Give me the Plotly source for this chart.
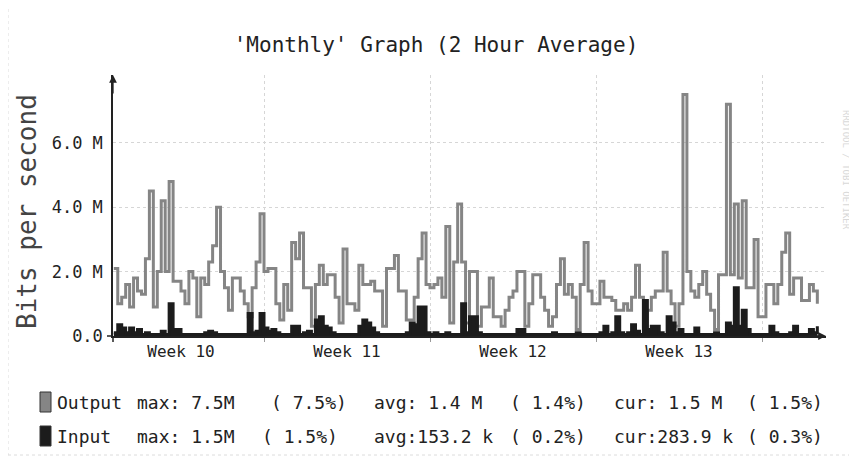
import plotly.graph_objects as go

# ---- data (Mbit/s, 4-hour samples) ----
output_mbps = [
    2.1, 1.0, 1.2, 1.6, 0.9, 1.8, 1.4, 1.3, 2.4, 4.5,
    0.9, 2.0, 4.2, 2.0, 4.8, 1.7, 1.7, 1.4, 1.0, 2.0,
    1.8, 0.6, 1.8, 1.6, 2.3, 2.8, 4.0, 2.0, 1.5, 0.8,
    1.8, 1.8, 1.4, 1.0, 0.6, 1.5, 2.3, 3.8, 2.0, 2.1,
    2.1, 1.0, 0.5, 1.6, 0.8, 2.9, 2.4, 3.2, 1.5, 1.5,
    0.3, 1.6, 2.2, 1.6, 1.9, 1.9, 1.2, 0.4, 2.7, 1.0,
    1.0, 0.8, 2.2, 1.6, 1.6, 1.7, 1.4, 1.4, 0.3, 2.1,
    2.1, 2.5, 1.4, 1.4, 0.5, 0.5, 1.2, 2.4, 3.2, 1.6,
    1.5, 1.6, 1.8, 1.2, 3.4, 0.4, 2.3, 4.1, 2.3, 0.4,
    2.0, 2.0, 0.3, 0.9, 0.9, 1.8, 0.6, 0.6, 0.3, 0.8,
    1.2, 1.4, 2.0, 2.0, 0.3, 1.0, 1.9, 1.9, 1.2, 0.8,
    0.3, 0.6, 1.6, 2.4, 1.3, 1.6, 1.2, 0.2, 1.6, 2.9,
    1.4, 1.0, 1.0, 1.7, 1.2, 1.2, 1.1, 0.8, 0.8, 1.0,
    0.8, 1.2, 2.2, 1.2, 0.3, 0.8, 1.2, 1.4, 1.4, 2.6,
    1.4, 1.0, 0.3, 1.0, 7.5, 2.0, 1.4, 1.2, 1.6, 2.0,
    1.3, 0.8, 0.2, 1.9, 1.9, 7.2, 1.9, 4.1, 1.8, 4.2,
    1.5, 1.5, 3.0, 0.6, 0.6, 1.6, 1.6, 1.0, 1.6, 2.6,
    3.2, 1.3, 1.8, 1.8, 1.1, 1.1, 1.6, 1.4, 1.0,
]
input_mbps = [
    0.10, 0.35, 0.25, 0.10, 0.25, 0.10, 0.20, 0.05, 0.10, 0.05,
    0.05, 0.05, 0.15, 0.05, 1.00, 0.20, 0.20, 0.05, 0.05, 0.05,
    0.05, 0.05, 0.05, 0.10, 0.15, 0.10, 0.05, 0.05, 0.05, 0.05,
    0.05, 0.05, 0.05, 0.05, 0.70, 0.10, 0.15, 0.70, 0.25, 0.15,
    0.20, 0.10, 0.05, 0.05, 0.05, 0.30, 0.30, 0.05, 0.10, 0.15,
    0.05, 0.50, 0.60, 0.30, 0.25, 0.10, 0.05, 0.05, 0.05, 0.05,
    0.05, 0.05, 0.30, 0.50, 0.40, 0.25, 0.10, 0.05, 0.05, 0.05,
    0.05, 0.05, 0.05, 0.05, 0.10, 0.40, 0.35, 0.90, 0.90, 0.10,
    0.05, 0.10, 0.05, 0.05, 0.10, 0.05, 0.05, 0.05, 1.00, 0.10,
    0.60, 0.60, 0.10, 0.05, 0.05, 0.05, 0.05, 0.05, 0.05, 0.05,
    0.05, 0.05, 0.20, 0.20, 0.05, 0.05, 0.05, 0.05, 0.05, 0.05,
    0.05, 0.10, 0.05, 0.05, 0.05, 0.05, 0.05, 0.10, 0.05, 0.05,
    0.05, 0.05, 0.05, 0.10, 0.30, 0.05, 0.10, 0.60, 0.10, 0.05,
    0.10, 0.35, 0.15, 0.05, 1.10, 0.20, 0.30, 0.30, 0.10, 0.05,
    0.60, 0.40, 0.10, 0.20, 0.05, 0.05, 0.05, 0.25, 0.05, 0.05,
    0.05, 0.05, 0.10, 0.05, 0.05, 0.40, 0.30, 1.50, 0.30, 0.80,
    0.20, 0.05, 0.05, 0.05, 0.05, 0.05, 0.30, 0.10, 0.05, 0.05,
    0.05, 0.10, 0.30, 0.05, 0.05, 0.05, 0.20, 0.10, 0.30,
]
start_hour = 16
step_hours = 4
hours = [start_hour + step_hours * i for i in range(len(output_mbps))]

week_centers = [84, 252, 420, 588]
week_labels = ["Week 10", "Week 11", "Week 12", "Week 13"]
week_bounds_step = 168
y_ticks = [0, 2, 4, 6]
y_labels = ["0.0", "2.0 M", "4.0 M", "6.0 M"]

title_text = "'Monthly' Graph (2 Hour Average)"
y_title = "Bits per second"
legend_rows = [
    ("Output", ["max: 7.5M", "( 7.5%)", "avg: 1.4 M", "( 1.4%)", "cur: 1.5 M", "( 1.5%)"]),
    ("Input", ["max: 1.5M", "( 1.5%)", "avg:153.2 k", "( 0.2%)", "cur:283.9 k", "( 0.3%)"]),
]

MONO = "DejaVu Sans Mono"
OFF = 8  # page body margin of the browser
W, H = 857 - OFF, 462 - OFF
# target plot box in window pixels: x 113..826, y 75..336
L, R, T, B = 113 - OFF, 857 - 826, 75 - OFF, 462 - 336
PW, PH = W - L - R, H - T - B


def px_x(p):
    return (p - OFF - L) / PW


def px_y(p):
    return (336 - p) / PH


fig = go.Figure()
fig.add_trace(go.Scatter(
    x=hours, y=output_mbps, mode="lines", line=dict(shape="hv", color="#858585", width=3),
    name="Output", hoverinfo="skip"))
fig.add_trace(go.Scatter(
    x=hours, y=input_mbps, mode="lines", line=dict(shape="hv", color="#1c1c1c", width=3),
    fill="tozeroy", fillcolor="#1c1c1c", name="Input", hoverinfo="skip"))

annotations = [
    dict(text=y_title, x=px_x(27), y=px_y(212), xref="paper", yref="paper", textangle=-90,
         xanchor="center", yanchor="middle",
         showarrow=False, font=dict(family=MONO, size=26, color="#444")),
    dict(text="RRDTOOL / TOBI OETIKER", x=px_x(846), y=px_y(170), xref="paper", yref="paper",
         xanchor="center", yanchor="middle",
         textangle=90, showarrow=False, font=dict(family=MONO, size=9, color="#d8d8d8")),
    # axis arrows
    dict(x=0, y=1, xref="paper", yref="paper", ax=0, ay=20, showarrow=True,
         arrowhead=2, arrowsize=1.2, arrowwidth=1.3, arrowcolor="#222", text=""),
    dict(x=1, y=0, xref="paper", yref="paper", ax=-20, ay=0, showarrow=True,
         arrowhead=2, arrowsize=1.2, arrowwidth=1.3, arrowcolor="#222", text=""),
]
shapes = [
    dict(type="rect", xref="paper", yref="paper", x0=px_x(8), x1=px_x(851), y0=px_y(455), y1=px_y(7),
         line=dict(color="#dcdcdc", width=1, dash="dot")),
    dict(type="line", xref="paper", yref="paper", x0=px_x(107), x1=px_x(113), y0=0, y1=0,
         line=dict(color="#222", width=1.5)),
    dict(type="line", xref="paper", yref="paper", x0=0, x1=0, y0=px_y(342), y1=0,
         line=dict(color="#222", width=1.5)),
]

row_y = [402, 436]
col_x = [[135, 269, 372, 508, 612, 745], [135, 260, 372, 508, 612, 745]]
swatch_col = ["#858585", "#1c1c1c"]
for r, (name, fields) in enumerate(legend_rows):
    yc = row_y[r]
    shapes.append(dict(type="rect", xref="paper", yref="paper", x0=px_x(40), x1=px_x(51),
                       y0=px_y(yc + 10), y1=px_y(yc - 10), fillcolor=swatch_col[r],
                       line=dict(color="#333", width=1)))
    annotations.append(dict(text=name, x=px_x(55), y=px_y(yc), xref="paper", yref="paper",
                            xanchor="left", yanchor="middle", showarrow=False,
                            font=dict(family=MONO, size=18, color="#222")))
    for cx, f in zip(col_x[r], fields):
        annotations.append(dict(text=f, x=px_x(cx), y=px_y(yc), xref="paper", yref="paper",
                                xanchor="left", yanchor="middle", showarrow=False,
                                font=dict(family=MONO, size=18, color="#222")))

fig.update_layout(
    width=W, height=H, margin=dict(l=L, r=R, t=T, b=B),
    paper_bgcolor="white", plot_bgcolor="white", showlegend=False,
    title=dict(text=title_text, x=(436 - OFF) / W, xanchor="center", y=1 - (45 - OFF) / H,
               yanchor="middle", font=dict(family=MONO, size=21, color="#222")),
    annotations=annotations, shapes=shapes,
)
x_lo = 168 - (264 - 113) * 168 / 166
x_hi = x_lo + PW * 168 / 166
fig.update_xaxes(
    range=[x_lo, x_hi], tickmode="array", tickvals=week_centers, ticktext=week_labels,
    showgrid=False, zeroline=False, showline=True, linecolor="#222", linewidth=1.5,
    ticks="", tickfont=dict(family=MONO, size=16, color="#222"), automargin=False,
    minor=dict(tick0=0, dtick=week_bounds_step, showgrid=True, gridcolor="#d6d6d6",
               griddash="dot", ticks="outside", ticklen=4, tickcolor="#999"),
)
fig.update_yaxes(
    range=[0, PH / 32.2], tickmode="array", tickvals=y_ticks, ticktext=y_labels,
    showgrid=True, gridcolor="#d6d6d6", griddash="dot", zeroline=False,
    showline=True, linecolor="#222", linewidth=1.5, ticks="", ticklen=0,
    ticklabelstandoff=5, automargin=False,
    tickfont=dict(family=MONO, size=17, color="#222"),
)
fig.write_html("out.html")
